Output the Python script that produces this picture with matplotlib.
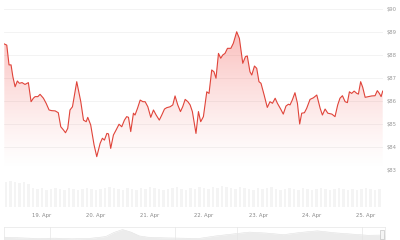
import matplotlib.pyplot as plt
import matplotlib.dates as mdates
import numpy as np
import pandas as pd
from matplotlib.patches import Rectangle

# price series: hours after 18 Apr 00:00, price in $
hours = [7.2, 8.3, 9.3, 10.2, 11.0, 12.0, 13.0, 13.9, 15.1, 16.4, 17.9, 19.1, 20.1, 20.9,
         22.1, 23.1, 24.6, 25.8, 27.1, 28.3, 29.8, 31.2, 32.3, 33.5, 34.4, 35.4, 36.4, 37.5,
         39.4, 41.2, 42.4, 43.6, 44.3, 45.6, 47.1, 48.3, 49.8, 50.8, 51.7, 52.8, 53.5, 54.5,
         55.7, 56.9, 58.2, 59.4, 60.6, 61.6, 62.4, 63.4, 64.6, 65.3, 66.4, 67.6, 68.8, 69.8,
         71.0, 72.3, 73.5, 74.7, 76.1, 77.2, 78.4, 79.4, 80.9, 82.1, 83.1, 84.3, 85.5, 86.5,
         87.6, 88.8, 89.8, 90.8, 92.4, 93.5, 94.5, 95.7, 97.2, 98.2, 99.4, 100.4, 101.3, 102.4,
         103.4, 104.3, 105.3, 106.4, 107.9, 109.0, 110.5, 111.7, 113.2, 114.4, 115.2, 116.4,
         117.2, 118.4, 119.4, 120.4, 121.3, 122.7, 124.1, 125.3, 126.4, 127.6, 128.6, 130.1,
         131.2, 132.4, 133.5, 134.2, 135.2, 136.4, 137.5, 138.5, 139.4, 140.6, 141.6, 143.1,
         144.6, 146.1, 147.6, 148.6, 149.8, 151.0, 152.8, 154.2, 155.4, 156.4, 157.5, 158.7,
         159.7, 160.6, 161.6, 162.7, 163.9, 164.6, 165.6, 166.5, 167.6, 169.0, 170.5, 172.0,
         173.0, 173.9, 174.7, 175.4]
prices = [88.48, 88.43, 87.57, 87.57, 87.06, 86.62, 86.87, 86.77, 86.80, 86.72, 86.80, 85.97,
          86.12, 86.19, 86.19, 86.29, 86.12, 85.90, 85.61, 85.58, 85.57, 85.49, 84.88, 84.74,
          84.62, 84.81, 85.61, 85.75, 86.84, 85.97, 85.17, 85.10, 85.29, 84.96, 84.09, 83.58,
          84.16, 84.38, 84.30, 84.59, 84.57, 83.94, 84.52, 84.74, 84.99, 84.88, 85.17, 85.32,
          85.29, 84.67, 85.47, 85.39, 85.68, 86.04, 85.97, 85.97, 85.75, 85.29, 85.61, 85.39,
          85.17, 85.39, 85.65, 85.71, 85.75, 85.83, 86.22, 85.83, 85.54, 85.75, 86.07, 85.97,
          85.83, 85.54, 84.59, 85.54, 85.10, 85.32, 86.40, 86.33, 87.35, 87.27, 86.99, 88.07,
          87.86, 88.00, 88.07, 88.29, 88.29, 88.51, 89.01, 88.72, 87.64, 87.93, 87.96, 87.27,
          87.13, 87.52, 87.42, 86.84, 86.77, 86.26, 85.72, 85.97, 85.90, 86.12, 85.90, 85.64,
          85.43, 85.78, 85.86, 85.83, 86.04, 86.36, 85.90, 85.00, 85.47, 85.49, 85.68, 86.07,
          86.14, 86.26, 85.68, 85.39, 85.65, 85.47, 85.43, 85.32, 85.83, 86.12, 86.23, 85.97,
          85.93, 86.40, 86.33, 86.43, 86.33, 86.30, 86.84, 86.60, 86.16, 86.19, 86.22, 86.23,
          86.45, 86.33, 86.19, 86.43]

# volume bars, every 2 hours
vol_hours = list(range(8, 176, 2))
volumes = [25, 26, 25, 24, 25, 23, 19, 18, 19, 17, 18, 19, 18, 17, 19, 18, 17, 18, 19, 18,
           17, 18, 19, 20, 19, 18, 17, 19, 18, 17, 19, 18, 20, 19, 18, 17, 18, 19, 20, 18,
           17, 19, 18, 20, 19, 18, 20, 19, 21, 20, 19, 18, 20, 19, 18, 17, 19, 18, 19, 20,
           18, 17, 18, 19, 18, 17, 19, 18, 17, 18, 19, 18, 17, 18, 19, 18, 17, 18, 17, 18,
           19, 18, 17, 18]

price_ticks = [83, 84, 85, 86, 87, 88, 89, 90]
date_ticks = ['2024-04-19', '2024-04-20', '2024-04-21', '2024-04-22',
              '2024-04-23', '2024-04-24', '2024-04-25']

# navigator overview (longer history, position in days)
nav_days = [0, 4, 8, 12, 16, 20, 24, 26, 28, 30, 32, 34, 38, 42, 46, 50, 54, 58, 62, 66,
            70, 74, 78, 82, 86, 90]
nav_vals = [40, 38, 36, 37, 35, 36, 42, 55, 64, 56, 44, 40, 38, 37, 36, 44, 50, 56, 53, 48,
            55, 60, 54, 50, 46, 47]

base = pd.Timestamp('2024-04-18')
t = base + pd.to_timedelta(hours, unit='h')
tv = base + pd.to_timedelta(vol_hours, unit='h')

red = '#e0443a'
fig = plt.figure(figsize=(4, 2.4), dpi=100)
W, H = 400, 240
x0, x1 = 4.3, 382.7

ax = fig.add_axes([x0 / W, 1 - 170 / H, (x1 - x0) / W, 161 / H])
for v in price_ticks:
    ax.axhline(v, color='#f1f1f1', lw=0.6, zorder=0)

poly = ax.fill_between(t, prices, 83, color='none', lw=0)
grad = np.linspace(0.0, 1.0, 256).reshape(-1, 1)
rgba = np.zeros((256, 1, 4))
rgba[..., 0] = 0.95
rgba[..., 1] = 0.35
rgba[..., 2] = 0.33
rgba[..., 3] = (grad ** 1.3) * 0.4
xl = mdates.date2num(t[0]), mdates.date2num(t[-1])
img = ax.imshow(rgba, aspect='auto', origin='lower',
                extent=[xl[0], xl[1], 83, 89.2], zorder=1)
img.set_clip_path(poly.get_paths()[0], transform=ax.transData)
ax.set_xlim(t[0], t[-1])
ax.set_ylim(83, 90)
ax.plot(t, prices, color=red, lw=0.8, zorder=3)

ax.yaxis.tick_right()
ax.set_yticks(price_ticks)
ax.set_yticklabels(['$%d' % v for v in price_ticks])
ax.tick_params(axis='y', length=0, pad=2.5, labelsize=3.8, labelcolor='#999999')
ax.set_xticks([])
for s in ax.spines.values():
    s.set_visible(False)

axv = fig.add_axes([x0 / W, 1 - 207 / H, (x1 - x0) / W, 27 / H])
axv.bar(tv, volumes, width=pd.Timedelta(hours=1.1), color='#f4f4f4', lw=0)
axv.set_ylim(0, 27)
axv.set_xlim(t[0], t[-1])
axv.set_yticks([])
axv.set_xticks(pd.to_datetime(date_ticks))
axv.set_xticklabels([f'{pd.Timestamp(d).day}. Apr' for d in date_ticks])
axv.tick_params(axis='x', length=0, pad=4.5, labelsize=3.8, labelcolor='#888888')
for s in axv.spines.values():
    s.set_visible(False)

axn = fig.add_axes([4 / W, 1 - 250 / H, 381 / W, 23 / H])
axn.fill_between(nav_days, nav_vals, 0, color='#ececec', lw=0)
axn.plot(nav_days, nav_vals, color='#e0e0e0', lw=0.4)
axn.set_xlim(0, 90)
axn.set_ylim(0, 72)
for px in [50, 175, 237, 362]:
    axn.axvline((px - 4) / 381 * 90, color='#e6e6e6', lw=0.5)
axn.add_patch(Rectangle(((380 - 4) / 381 * 90, 36), 1.0, 26, facecolor='#f5f5f5',
                        edgecolor='#bbbbbb', lw=0.4, zorder=5))
axn.set_xticks([])
axn.set_yticks([])
for s in axn.spines.values():
    s.set_color('#e6e6e6')
    s.set_linewidth(0.5)

fig.savefig('out.png', dpi=100)
